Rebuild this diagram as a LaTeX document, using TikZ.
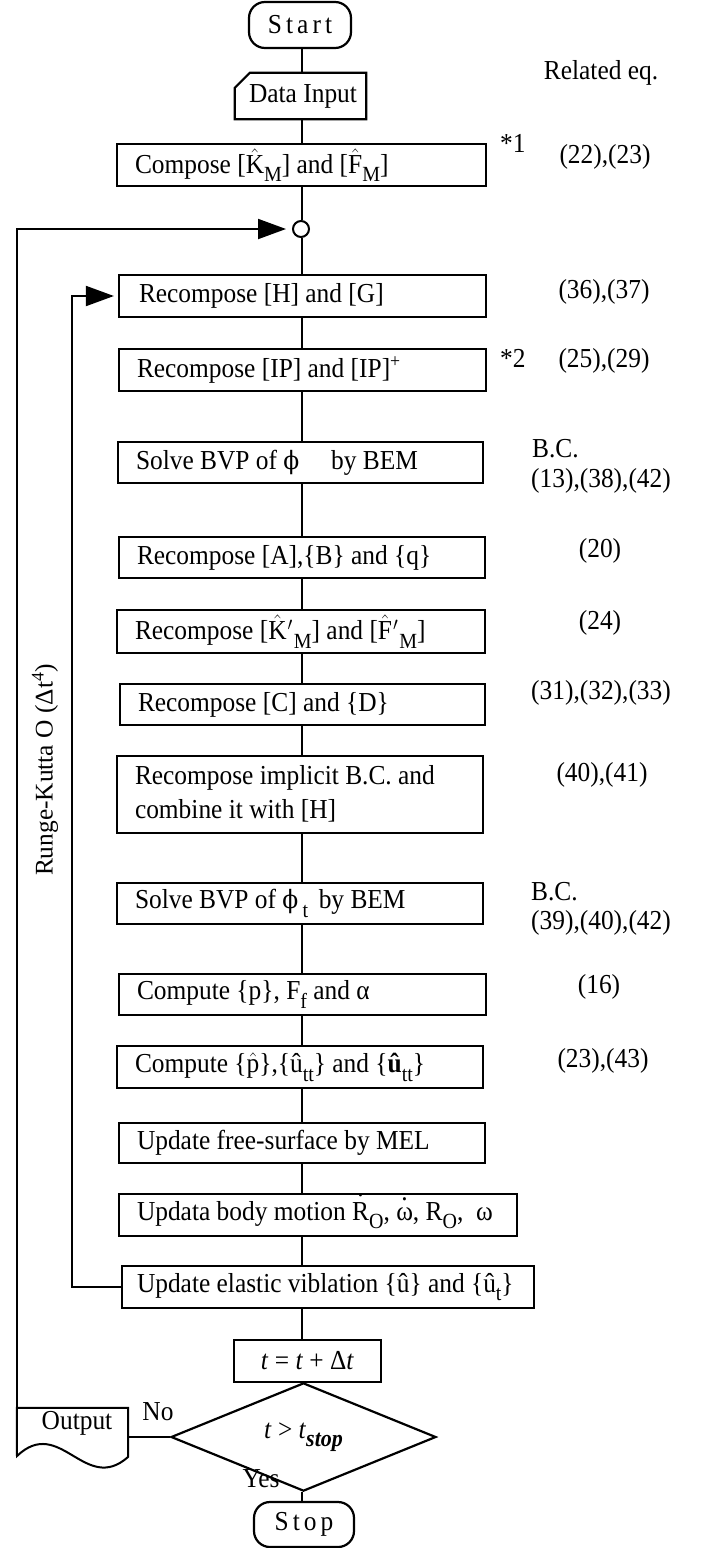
\documentclass[tikz,border=0pt]{standalone}
\usepackage{graphicx}
\usepackage{fontspec}
\setmainfont{Liberation Serif}
\setmathrm{Liberation Serif}
\newfontfamily\dvs[Scale=0.92]{DejaVu Serif}
\usetikzlibrary{arrows.meta,shapes.geometric}

\newcommand\vs[1]{\scalebox{1}[1.08]{#1}}
\newcommand\sbs[1]{\raisebox{-0.3em}{\fontsize{20}{20}\selectfont #1}}
\newcommand\hm[1]{$\hat{\mathrm{#1}}$}
\newcommand\dotac[2]{{\ooalign{#2\cr\hidewidth\raisebox{#1}{.}\hidewidth\cr}}}
\newcommand\phig{{\dvs ϕ}}
\newcommand\mkbox[6]{%
  \pgfmathsetmacro\bwid{#3-#2-36}\pgfmathsetmacro\bhgt{#5-#4}%
  \pgfmathsetmacro\bcx{(#2+#3)/2}\pgfmathsetmacro\bcy{(#4+#5)/2}%
  \node[box, minimum height=\bhgt pt] (#1) at (\bcx,\bcy) {\vs{\makebox[\bwid pt][l]{#6}}};}

\begin{document}
\begin{tikzpicture}[x=1pt,y=-1pt,
  every node/.style={font=\fontsize{25.4}{32}\selectfont},
  box/.style={draw, line width=2.2pt, inner xsep=18pt, inner ysep=0pt},
  term/.style={draw, line width=2.2pt, rounded corners=16pt, inner sep=0pt},
  conn/.style={line width=2pt},
  arr/.style={-{Triangle[length=28pt,width=20pt]}},
  lbl/.style={anchor=base, inner sep=0pt},
  lbll/.style={anchor=base west, inner sep=0pt}]

\path[fill=white] (0,0) rectangle (706,1548);
\useasboundingbox (0,0) rectangle (706,1548);

\coordinate (spine) at (302,0);
\coordinate (innerx) at (72,0);

% terminals
\node[term, minimum width=102pt, minimum height=46pt] (start) at (300,25) {\vs{\addfontfeature{LetterSpace=16}Start}};
\node[term, minimum width=100pt, minimum height=45pt] (stop) at (304,1524.5) {\vs{\addfontfeature{LetterSpace=16}Stop}};

% data input
\node[minimum width=131pt, minimum height=46pt, inner sep=0pt] (data) at (300.5,96) {\vs{\hspace*{5pt}Data Input}};
\draw[line width=2.2pt] (data.south west) -- (data.south east) -- (data.north east)
  -- ([xshift=15pt]data.north west) -- ([yshift=-15pt]data.north west) -- cycle;

% process boxes
\mkbox{compose}{117}{486}{144}{186}{Compose [\hm{K}\sbs{M}] and [\hm{F}\sbs{M}]}
\node[draw, circle, line width=2pt, minimum size=16pt, inner sep=0pt] (circ) at (301,229) {};
\mkbox{recH}{119}{486}{275}{317}{\hspace*{2pt}Recompose [H] and [G]}
\mkbox{recIP}{119}{486}{349}{391}{Recompose [IP] and [IP]\textsuperscript{+}}
\mkbox{bvp}{118}{483}{442}{483}{Solve BVP of \phig\quad\ by BEM}
\mkbox{recA}{119}{485}{537}{578}{Recompose [A],\{B\} and \{q\}}
\mkbox{recK}{117}{485}{610}{653}{Recompose [\hm{K}\kern1pt$'$\kern1pt\sbs{M}] and [\hm{F}\kern1pt$'$\kern1pt\sbs{M}]}
\mkbox{recC}{120}{485}{684}{725}{Recompose [C] and \{D\}}
\mkbox{impl}{117}{483}{756}{833}{\begin{tabular}{@{}l@{}}Recompose implicit B.C. and\\combine it with [H]\end{tabular}}
\mkbox{bvpt}{117}{483}{883}{924}{Solve BVP of \phig\,\sbs{t}\, by BEM}
\mkbox{compp}{119}{486}{974}{1015}{Compute \{p\}, F\sbs{f} and α}
\mkbox{comph}{117}{483}{1046}{1088}{Compute \{\hm{p}\},\{û\sbs{tt}\} and \{\textbf{û}\sbs{tt}\}}
\mkbox{mel}{119}{485}{1123}{1163}{Update free-surface by MEL}
\mkbox{body}{119}{517}{1194}{1236}{Updata body motion \dotac{0.85em}{R}\sbs{O}, \dotac{0.72em}{ω}, R\sbs{O},\ \ ω}
\mkbox{elast}{122}{534}{1266}{1308}{\hspace*{-3pt}Update elastic viblation \{û\} and \{û\sbs{t}\}}
\node[draw, line width=2.2pt, minimum width=147pt, minimum height=42pt, inner sep=0pt] (tstep) at (307.5,1361) {\vs{\textit{t} = \textit{t} + Δ\textit{t}}};
\node[draw, diamond, line width=2.2pt, minimum width=265pt, minimum height=65pt, inner sep=0pt] (dia) at (303.5,1437)
  {\vs{\textit{t} > \textit{t}\raisebox{-8pt}{\fontsize{22}{22}\selectfont\bfseries\itshape stop}}};

% output (document shape)
\node[minimum width=111pt, minimum height=30pt, inner sep=0pt] (out) at (72.5,1423) {\vs{\hspace*{9pt}Output}};
\draw[line width=2pt] (out.north west) -- (out.north east) -- (128,1457)
  .. controls (85,1495) and (60,1415) .. (17,1456) -- cycle;

% main connectors
\foreach \a/\b in {start/data, data/compose, compose/circ, circ/recH, recH/recIP, recIP/bvp,
  bvp/recA, recA/recK, recK/recC, recC/impl, impl/bvpt, bvpt/compp, compp/comph, comph/mel,
  mel/body, body/elast, elast/tstep, tstep/dia, dia/stop}
  \draw[conn] (\a.south -| spine) -- (\b.north -| spine);

\draw[conn] (dia.west) -- (dia.west -| out.east);

% loops
\draw[conn, arr, shorten >=6pt] (out.north west) -- (out.north west |- circ) -- (circ.west);
\draw[conn, arr, shorten >=4pt] (elast.west) -- (elast.west -| innerx) -- (recH.west -| innerx) -- (recH.west);

\node[rotate=90, inner sep=0pt] (rk) at (45,770) {Runge-Kutta O (Δt\textsuperscript{4})};

% labels
\node[lbl] (no) at (158,1420) {\vs{No}};
\node[lbl] (yes) at (261,1487) {\vs{Yes}};
\node[lbl] (releq) at (601,79) {\vs{Related eq.}};
\node[lbll] (st1) at (500,152) {\vs{*1}};
\node[lbl] (e1) at (605,163) {\vs{(22),(23)}};
\node[lbl] (e2) at (604,298) {\vs{(36),(37)}};
\node[lbll] (st2) at (500,367) {\vs{*2}};
\node[lbl] (e3) at (604,367) {\vs{(25),(29)}};
\node[lbll] (bc1) at (532,457) {\vs{B.C.}};
\node[lbll] (e4) at (531,487) {\vs{(13),(38),(42)}};
\node[lbl] (e5) at (600,557) {\vs{(20)}};
\node[lbl] (e6) at (600,629) {\vs{(24)}};
\node[lbll] (e7) at (531,699) {\vs{(31),(32),(33)}};
\node[lbl] (e8) at (602,781) {\vs{(40),(41)}};
\node[lbll] (bc2) at (531,900) {\vs{B.C.}};
\node[lbll] (e9) at (531,929) {\vs{(39),(40),(42)}};
\node[lbl] (e10) at (599,993) {\vs{(16)}};
\node[lbl] (e11) at (603,1067) {\vs{(23),(43)}};
\end{tikzpicture}
\end{document}
